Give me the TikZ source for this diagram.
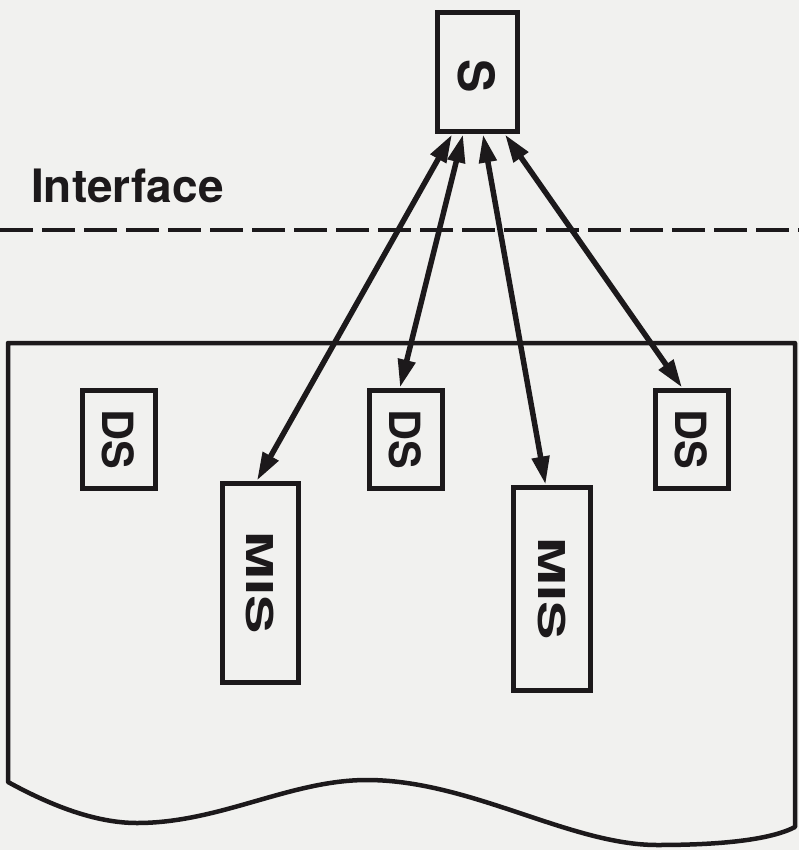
\documentclass[tikz,border=0pt]{standalone}
\usepackage{fontspec}
\setmainfont{TeX Gyre Heros}
\usetikzlibrary{arrows.meta}
\definecolor{paper}{RGB}{241,241,239}
\definecolor{ink}{RGB}{28,25,27}
\tikzset{
  box/.style={draw=ink, line width=5pt, inner sep=0pt, text=ink, font=\bfseries},
  arr/.style={draw=ink, line width=5.5pt, {Triangle[length=28pt,width=17pt]}-{Triangle[length=28pt,width=17pt]}},
  frame/.style={draw=ink, line width=4.5pt, line join=round},
  iface/.style={draw=ink, line width=3.5pt, dash pattern=on 33pt off 9pt}
}
\begin{document}
\begin{tikzpicture}[x=1pt,y=-1pt]
  \fill[paper] (0,0) rectangle (799,850);
  \useasboundingbox (0,0) rectangle (799,850);

  % interface
  \node[anchor=base west, inner sep=0pt, text=ink, font=\fontsize{46}{50}\selectfont\bfseries] (iftext) at (31,203) {Interface};
  \coordinate (ifl) at (0,230);
  \coordinate (ifr) at (799,230);
  \draw[iface] (ifl) -- (ifr);

  % container
  \draw[frame] (8,343) -- (795,343) -- (795,827)
    .. controls (770,840) and (720,845) .. (657,845)
    .. controls (570,845) and (470,780) .. (367,780)
    .. controls (290,780) and (220,823) .. (137,823)
    .. controls (95,823) and (50,805) .. (8,782) -- cycle;

  % boxes
  \node[box, minimum width=80pt, minimum height=119pt] (S) at (477,72.5)
    {\raisebox{-8pt}{\rotatebox{-90}{\fontsize{50}{52}\selectfont S}}};
  \node[box, minimum width=73pt, minimum height=98pt] (ds1) at (118.5,439)
    {\rotatebox{-90}{\fontsize{43}{46}\selectfont DS}};
  \node[box, minimum width=73pt, minimum height=98pt] (ds2) at (405.5,439)
    {\rotatebox{-90}{\fontsize{43}{46}\selectfont DS}};
  \node[box, minimum width=73pt, minimum height=98pt] (ds3) at (691.5,439)
    {\rotatebox{-90}{\fontsize{43}{46}\selectfont DS}};
  \node[box, minimum width=76pt, minimum height=199pt] (mis1) at (260,582.5)
    {\rotatebox{-90}{\fontsize{37}{40}\selectfont\scalebox{1.55}[1]{MIS}}};
  \node[box, minimum width=77pt, minimum height=203pt] (mis2) at (551.5,588.5)
    {\rotatebox{-90}{\fontsize{37}{40}\selectfont\scalebox{1.55}[1]{MIS}}};

  % connectors
  \draw[arr] ([xshift=-25pt]S.south) -- ([xshift=-3pt]mis1.north);
  \draw[arr] ([xshift=-14pt]S.south) -- ([xshift=-5.5pt]ds2.north);
  \draw[arr] ([xshift=6pt]S.south) -- ([xshift=-6pt]mis2.north);
  \draw[arr] ([xshift=28pt]S.south) -- ([xshift=-9.5pt]ds3.north);
\end{tikzpicture}
\end{document}
